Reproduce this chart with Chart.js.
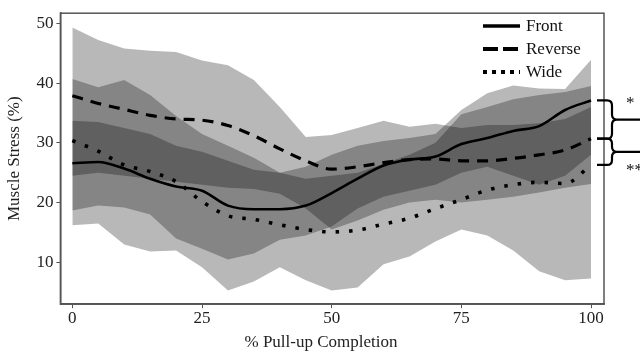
<!DOCTYPE html>
<html><head><meta charset="utf-8">
<script src="https://cdn.jsdelivr.net/npm/chart.js@4/dist/chart.umd.min.js"></script>
<style>html,body{margin:0;padding:0;background:#fff}#wrap{width:640px;height:356px}</style>
</head><body><div id="wrap"><canvas id="c" width="640" height="356"></canvas></div>
<script>
const xValues = [0,5,10,15,20,25,30,35,40,45,50,55,60,65,70,75,80,85,90,95,100];
const frontMean   = [26.6,26.8,25.7,24.0,22.7,22.0,19.5,18.9,18.9,19.5,21.6,24.0,26.2,27.2,27.7,29.8,30.8,32.0,32.8,35.5,37.1];
const reverseMean = [37.9,36.6,35.6,34.6,34.0,33.8,32.9,31.2,29.0,27.0,25.6,26.0,26.7,27.2,27.3,27.0,27.0,27.4,28.0,28.8,30.7];
const wideMean    = [30.4,28.6,26.3,25.2,23.5,20.2,17.8,17.2,16.3,15.5,15.1,15.4,16.4,17.4,19.0,20.5,22.1,23.0,23.4,23.2,26.3];
const reverseUpper = [49.3,47.2,45.8,45.4,45.2,43.8,43.0,40.5,36.0,31.0,31.3,32.5,33.7,32.7,33.2,32.5,33.0,33.0,33.3,34.0,36.0];
const reverseLower = [24.5,25.0,24.5,24.0,23.5,23.0,22.5,22.3,21.5,19.0,15.5,17.0,18.8,20.0,20.5,20.0,20.5,21.0,21.7,22.5,23.1];
const frontUpper   = [33.7,33.5,32.5,31.5,29.5,28.5,27.0,25.5,25.0,26.0,28.0,29.5,30.3,30.8,31.5,35.5,38.3,39.6,39.1,39.0,43.9];
const frontLower   = [18.7,19.5,19.2,18.0,14.0,12.3,10.5,11.5,13.8,14.5,16.0,19.0,21.0,22.0,23.0,25.0,26.0,24.5,23.0,24.5,28.0];
const wideUpper    = [40.7,39.3,40.5,38.0,34.5,31.5,29.5,27.5,25.0,24.0,24.5,25.0,26.5,28.0,30.0,34.8,36.0,37.3,38.0,38.5,39.5];
const wideLower    = [16.2,16.5,13.0,11.8,12.0,9.2,5.3,6.8,9.2,7.0,5.3,5.8,9.7,11.0,13.5,15.5,14.5,12.0,8.5,7.0,7.3];
const xTicks = [0,25,50,75,100];
const yTicks = [10,20,30,40,50];
const seriesNames = ['Front','Reverse','Wide'];
const sigLabels = ['*','**'];
const xTitle = '% Pull-up Completion';
const yTitle = 'Muscle Stress (%)';

const pts = arr => arr.map((v,i)=>({x:xValues[i], y:v}));
const BAND = 'rgba(0,0,0,0.28)';
const SERIF = '"Liberation Serif", "Times New Roman", serif';

function lineDs(label, data, dash, width){
  return {label, data: pts(data), borderColor:'#000', borderWidth:width, borderDash:dash,
    borderCapStyle:'butt', pointRadius:0, fill:false, cubicInterpolationMode:'monotone', isLine:true};
}
function bandDs(data, fillTarget){
  return {label:'', data: pts(data), borderWidth:0, borderColor:'rgba(0,0,0,0)', pointRadius:0,
    backgroundColor:BAND, fill: fillTarget===null ? false : {target: fillTarget}, tension:0};
}

const datasets = [
  lineDs(seriesNames[0], frontMean, [], 2.6),
  lineDs(seriesNames[1], reverseMean, [11,8], 3.2),
  lineDs(seriesNames[2], wideMean, [3.5,10], 3.6),
  bandDs(reverseLower, null), bandDs(reverseUpper, 3),
  bandDs(frontLower, null), bandDs(frontUpper, 5),
  bandDs(wideLower, null), bandDs(wideUpper, 7)
];

const decor = {
  id:'decor',
  afterDraw(chart){
    const ctx = chart.ctx, a = chart.chartArea, ys = chart.scales.y, xs = chart.scales.x;
    ctx.save();
    ctx.strokeStyle = '#555'; ctx.lineWidth = 1.5;
    ctx.strokeRect(a.left, a.top, a.right - a.left, a.bottom - a.top);
    // x title (drawn slightly left of centre, as in the reference)
    ctx.fillStyle = '#222'; ctx.font = '17px ' + SERIF;
    ctx.textAlign = 'center'; ctx.textBaseline = 'middle';
    ctx.fillText(xTitle, 321, xs.bottom - 10.5);
    // legend
    const lx0 = 483, lx1 = 520, rows = [26, 49, 72];
    const dsLines = chart.data.datasets.filter(d=>d.isLine);
    dsLines.forEach((d,i)=>{
      ctx.beginPath();
      ctx.strokeStyle = '#000';
      ctx.lineWidth = i===0 ? 3.5 : 4;
      ctx.setLineDash(i===0 ? [] : (i===1 ? [15,5] : [4,5]));
      ctx.moveTo(lx0, rows[i]); ctx.lineTo(lx1, rows[i]); ctx.stroke();
      ctx.setLineDash([]);
      ctx.fillStyle = '#111'; ctx.font = '17px ' + SERIF;
      ctx.textAlign = 'left'; ctx.textBaseline = 'middle';
      ctx.fillText(d.label, 526, rows[i] + 1);
    });
    // significance braces
    const n = xValues.length - 1;
    const yF = ys.getPixelForValue(frontMean[n]);
    const yR = ys.getPixelForValue(reverseMean[n]);
    const yW = ys.getPixelForValue(wideMean[n]);
    function brace(y0, y1){
      const xst = 597, xh = 607, xv = 612, r = 5, ym = (y0 + y1)/2;
      ctx.beginPath();
      ctx.moveTo(xst, y0); ctx.lineTo(xh, y0);
      ctx.quadraticCurveTo(xv, y0, xv, y0 + r);
      ctx.lineTo(xv, ym - r);
      ctx.quadraticCurveTo(xv, ym, xv + r, ym);
      ctx.lineTo(645, ym);
      ctx.moveTo(xv + r, ym);
      ctx.quadraticCurveTo(xv, ym, xv, ym + r);
      ctx.lineTo(xv, y1 - r);
      ctx.quadraticCurveTo(xv, y1, xh, y1);
      ctx.lineTo(xst, y1);
      ctx.stroke();
    }
    ctx.strokeStyle = '#000'; ctx.lineWidth = 2.2;
    brace(yF, yR); brace(yR, yW);
    ctx.fillStyle = '#111'; ctx.font = '17px ' + SERIF; ctx.textAlign = 'left'; ctx.textBaseline = 'alphabetic';
    ctx.fillText(sigLabels[0], 626, yF + 8);
    ctx.fillText(sigLabels[1], 626, yW + 10);
    ctx.restore();
  }
};

new Chart(document.getElementById('c'), {
  type:'line',
  data:{datasets},
  options:{
    responsive:false, animation:false, devicePixelRatio:1,
    layout:{padding:{left:4, right:36, top:12, bottom:3}},
    plugins:{legend:{display:false}, tooltip:{enabled:false}, filler:{propagate:false}},
    scales:{
      x:{type:'linear', min:-2.3, max:102.5,
        afterBuildTicks: ax => { ax.ticks = xTicks.map(v=>({value:v})); },
        grid:{display:true, drawOnChartArea:false, drawTicks:true, tickLength:4, color:'#555'},
        border:{display:true, color:'#555', width:1.5},
        ticks:{color:'#222', font:{family:SERIF, size:17}, padding:0, maxRotation:0},
        title:{display:true, text:xTitle, color:'rgba(0,0,0,0)', font:{family:SERIF, size:17}, padding:{top:4,bottom:0}}
      },
      y:{type:'linear', min:3, max:51.7,
        afterBuildTicks: ax => { ax.ticks = yTicks.map(v=>({value:v})); },
        grid:{display:true, drawOnChartArea:false, drawTicks:true, tickLength:4, color:'#555'},
        border:{display:true, color:'#555', width:1.5},
        ticks:{color:'#222', font:{family:SERIF, size:17}, padding:3},
        title:{display:true, text:yTitle, color:'#222', font:{family:SERIF, size:17}, padding:{top:0,bottom:9}}
      }
    }
  },
  plugins:[decor]
});
</script></body></html>
